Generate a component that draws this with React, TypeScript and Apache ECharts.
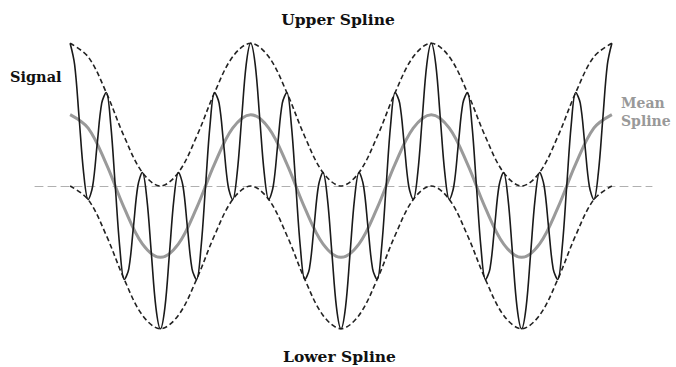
import React, { useEffect, useRef } from "react";
import * as echarts from "echarts";

// phase (degrees) between successive samples
const SIGNAL_STEP = 9;
const SPLINE_STEP = 36;

// Signal: values read at every 9° of slow phase (3 slow periods, 0°..1080°)
const signal = [
  2, 1.7, 0.95, 0.18, -0.19, 0, 0.59, 1.16, 1.31, 0.86,
  0, -0.86, -1.31, -1.16, -0.59, 0, 0.19, -0.18, -0.95, -1.7,
  -2, -1.7, -0.95, -0.18, 0.19, 0, -0.59, -1.16, -1.31, -0.86,
  0, 0.86, 1.31, 1.16, 0.59, 0, -0.19, 0.18, 0.95, 1.7,
  2, 1.7, 0.95, 0.18, -0.19, 0, 0.59, 1.16, 1.31, 0.86,
  0, -0.86, -1.31, -1.16, -0.59, 0, 0.19, -0.18, -0.95, -1.7,
  -2, -1.7, -0.95, -0.18, 0.19, 0, -0.59, -1.16, -1.31, -0.86,
  0, 0.86, 1.31, 1.16, 0.59, 0, -0.19, 0.18, 0.95, 1.7,
  2, 1.7, 0.95, 0.18, -0.19, 0, 0.59, 1.16, 1.31, 0.86,
  0, -0.86, -1.31, -1.16, -0.59, 0, 0.19, -0.18, -0.95, -1.7,
  -2, -1.7, -0.95, -0.18, 0.19, 0, -0.59, -1.16, -1.31, -0.86,
  0, 0.86, 1.31, 1.16, 0.59, 0, -0.19, 0.18, 0.95, 1.7,
  2,
];

// Splines: values read at every 36° (at the signal's extrema)
const upperSpline = [
  2, 1.81, 1.31, 0.69, 0.19, 0, 0.19, 0.69, 1.31, 1.81,
  2, 1.81, 1.31, 0.69, 0.19, 0, 0.19, 0.69, 1.31, 1.81,
  2, 1.81, 1.31, 0.69, 0.19, 0, 0.19, 0.69, 1.31, 1.81,
  2,
];
const lowerSpline = [
  0, -0.19, -0.69, -1.31, -1.81, -2, -1.81, -1.31, -0.69, -0.19,
  0, -0.19, -0.69, -1.31, -1.81, -2, -1.81, -1.31, -0.69, -0.19,
  0, -0.19, -0.69, -1.31, -1.81, -2, -1.81, -1.31, -0.69, -0.19,
  0,
];
const meanSpline = [
  1, 0.81, 0.31, -0.31, -0.81, -1, -0.81, -0.31, 0.31, 0.81,
  1, 0.81, 0.31, -0.31, -0.81, -1, -0.81, -0.31, 0.31, 0.81,
  1, 0.81, 0.31, -0.31, -0.81, -1, -0.81, -0.31, 0.31, 0.81,
  1,
];

const LABEL_UPPER = "Upper Spline";
const LABEL_LOWER = "Lower Spline";
const LABEL_SIGNAL = "Signal";
const LABEL_MEAN = "Mean\nSpline";

const toPairs = (vals: number[], step: number) => vals.map((v, i) => [i * step, v]);

const FONT = "'DejaVu Serif', serif";

export default function App() {
  const ref = useRef<HTMLDivElement>(null);
  useEffect(() => {
    if (!ref.current) return;
    const chart = echarts.init(ref.current, null, { renderer: "svg" });
    const smooth = 0.35;
    const envStyle = { color: "#222222", width: 1.6, type: [5, 3] };
    chart.setOption({
      animation: false,
      backgroundColor: "#ffffff",
      grid: { left: 35, right: 24, top: 29, bottom: 24 },
      xAxis: {
        type: "value",
        min: -70,
        max: 1160,
        axisLine: {
          show: true,
          onZero: true,
          lineStyle: { color: "#b0b0b0", width: 1, type: [8, 5] },
        },
        axisTick: { show: false },
        axisLabel: { show: false },
        splitLine: { show: false },
      },
      yAxis: {
        type: "value",
        min: -2.2,
        max: 2.2,
        axisLine: { show: false },
        axisTick: { show: false },
        axisLabel: { show: false },
        splitLine: { show: false },
      },
      series: [
        {
          type: "line",
          name: "Upper Spline",
          data: toPairs(upperSpline, SPLINE_STEP),
          smooth,
          showSymbol: false,
          symbol: "none",
          clip: false,
          lineStyle: envStyle,
          z: 2,
        },
        {
          type: "line",
          name: "Lower Spline",
          data: toPairs(lowerSpline, SPLINE_STEP),
          smooth,
          showSymbol: false,
          symbol: "none",
          clip: false,
          lineStyle: envStyle,
          z: 2,
        },
        {
          type: "line",
          name: "Mean Spline",
          data: toPairs(meanSpline, SPLINE_STEP),
          smooth,
          showSymbol: false,
          symbol: "none",
          clip: false,
          lineStyle: { color: "#9a9a9a", width: 3 },
          z: 3,
        },
        {
          type: "line",
          name: "Signal",
          data: toPairs(signal, SIGNAL_STEP),
          smooth,
          showSymbol: false,
          symbol: "none",
          clip: false,
          lineStyle: { color: "#1a1a1a", width: 1.6 },
          z: 4,
        },
      ],
      graphic: [
        {
          type: "text",
          x: 338,
          y: 19.5,
          style: {
            text: LABEL_UPPER,
            fill: "#111",
            font: `bold 15.5px ${FONT}`,
            align: "center",
            verticalAlign: "middle",
          },
        },
        {
          type: "text",
          x: 339.5,
          y: 356.5,
          style: {
            text: LABEL_LOWER,
            fill: "#111",
            font: `bold 15.5px ${FONT}`,
            align: "center",
            verticalAlign: "middle",
          },
        },
        {
          type: "text",
          x: 10,
          y: 76.5,
          style: {
            text: LABEL_SIGNAL,
            fill: "#111",
            font: `bold 14.5px ${FONT}`,
            align: "left",
            verticalAlign: "middle",
          },
        },
        {
          type: "text",
          x: 621,
          y: 94,
          style: {
            text: LABEL_MEAN,
            fill: "#999",
            font: `bold 14px ${FONT}`,
            lineHeight: 18,
            align: "left",
            verticalAlign: "top",
          },
        },
      ],
    });
    return () => chart.dispose();
  }, []);
  return (
    <div
      ref={ref}
      style={{ position: "fixed", left: 0, top: 0, width: 676, height: 367 }}
    />
  );
}
